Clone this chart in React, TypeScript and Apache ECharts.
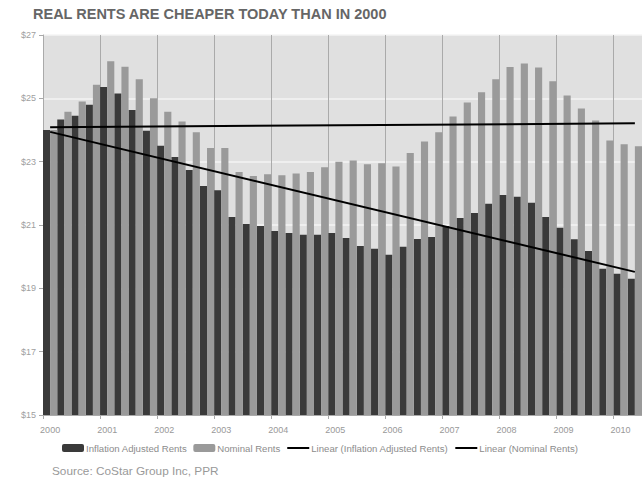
import React, { useEffect, useRef } from "react";
import * as echarts from "echarts";

const categories = [
  "2000 Q1", "2000 Q2", "2000 Q3", "2000 Q4",
  "2001 Q1", "2001 Q2", "2001 Q3", "2001 Q4",
  "2002 Q1", "2002 Q2", "2002 Q3", "2002 Q4",
  "2003 Q1", "2003 Q2", "2003 Q3", "2003 Q4",
  "2004 Q1", "2004 Q2", "2004 Q3", "2004 Q4",
  "2005 Q1", "2005 Q2", "2005 Q3", "2005 Q4",
  "2006 Q1", "2006 Q2", "2006 Q3", "2006 Q4",
  "2007 Q1", "2007 Q2", "2007 Q3", "2007 Q4",
  "2008 Q1", "2008 Q2", "2008 Q3", "2008 Q4",
  "2009 Q1", "2009 Q2", "2009 Q3", "2009 Q4",
  "2010 Q1", "2010 Q2",
];

const inflationAdjusted = [
  24.0, 24.33, 24.45, 24.8,
  25.36, 25.15, 24.63, 23.98,
  23.5, 23.15, 22.74, 22.23,
  22.1, 21.25, 21.03, 20.97,
  20.81, 20.75, 20.69, 20.69,
  20.75, 20.59, 20.34, 20.25,
  20.06, 20.31, 20.56, 20.62,
  20.97, 21.22, 21.38, 21.67,
  21.95, 21.89, 21.7, 21.25,
  20.91, 20.55, 20.18, 19.62,
  19.46, 19.3,
];

const nominal = [
  24.0, 24.58, 24.9, 25.43,
  26.17, 26.0, 25.6, 25.0,
  24.58, 24.27, 23.93, 23.43,
  23.43, 22.67, 22.55, 22.6,
  22.57, 22.63, 22.67, 22.82,
  23.0, 23.04, 22.92, 22.95,
  22.85, 23.27, 23.64, 23.93,
  24.43, 24.87, 25.19, 25.6,
  25.99, 26.1, 25.97, 25.54,
  25.09, 24.68, 24.3, 23.67,
  23.55, 23.49,
];

// Trend line end points (first and last quarter)
const trendInflation = [23.94, 19.52];
const trendNominal = [24.09, 24.21];

const yTicks = [15, 17, 19, 21, 23, 25, 27];

const seriesNames = [
  "Inflation Adjusted Rents",
  "Nominal Rents",
  "Linear (Inflation Adjusted Rents)",
  "Linear (Nominal Rents)",
];

const FONT = "'Liberation Sans', Arial, sans-serif";

function trendData(ends: number[]) {
  return categories.map((_, i) =>
    i === 0 ? ends[0] : i === categories.length - 1 ? ends[1] : null
  );
}

export default function App() {
  const ref = useRef<HTMLDivElement>(null);
  useEffect(() => {
    if (!ref.current) return;
    const chart = echarts.init(ref.current, undefined, { renderer: "svg" });
    chart.setOption({
      animation: false,
      backgroundColor: "#ffffff",
      textStyle: { fontFamily: FONT },
      title: {
        text: "REAL RENTS ARE CHEAPER TODAY THAN IN 2000",
        left: 33,
        top: 6,
        padding: 0,
        textStyle: {
          fontFamily: FONT,
          fontSize: 14.5,
          fontWeight: "bold",
          color: "#666666",
        },
      },
      legend: {
        left: 62,
        top: 443,
        padding: 0,
        itemWidth: 22,
        itemHeight: 8,
        itemGap: 6,
        selectedMode: false,
        textStyle: { fontFamily: FONT, fontSize: 9.6, color: "#8c8c8c", padding: [0, 0, 0, -3] },
        data: [
          { name: seriesNames[0] },
          { name: seriesNames[1] },
          { name: seriesNames[2], itemStyle: { color: "rgba(0,0,0,0)", borderWidth: 0 } },
          { name: seriesNames[3], itemStyle: { color: "rgba(0,0,0,0)", borderWidth: 0 } },
        ],
      },
      grid: {
        left: 43,
        top: 35,
        width: 600,
        height: 380,
        show: true,
        backgroundColor: "#e0e0e0",
        borderWidth: 0,
      },
      xAxis: {
        type: "category",
        data: categories,
        boundaryGap: true,
        axisLine: { show: true, lineStyle: { color: "#aaaaaa", width: 1 } },
        axisTick: { show: true, interval: 3, length: 4, lineStyle: { color: "#aaaaaa" } },
        axisLabel: {
          interval: 3,
          fontSize: 9,
          color: "#999999",
          margin: 10,
          fontFamily: FONT,
          formatter: (v: string) => v.slice(0, 4),
        },
        splitLine: { show: true, interval: 3, lineStyle: { color: "#aaaaaa", width: 1 } },
      },
      yAxis: {
        type: "value",
        min: yTicks[0],
        max: yTicks[yTicks.length - 1],
        interval: 2,
        axisLine: { show: true, lineStyle: { color: "#aaaaaa", width: 1 } },
        axisTick: { show: true, length: 4, lineStyle: { color: "#aaaaaa" } },
        axisLabel: {
          fontSize: 9,
          color: "#a0a0a0",
          margin: 7,
          fontFamily: FONT,
          formatter: (v: number) => "$" + v,
        },
        splitLine: { show: true, lineStyle: { color: "#f4f4f4", width: 1.5 } },
      },
      series: [
        {
          name: seriesNames[0],
          type: "bar",
          data: inflationAdjusted,
          barGap: "0%",
          barCategoryGap: "0%",
          itemStyle: { color: "#3a3a3a" },
        },
        {
          name: seriesNames[1],
          type: "bar",
          data: nominal,
          barGap: "0%",
          barCategoryGap: "0%",
          itemStyle: { color: "#9a9a9a" },
        },
        {
          name: seriesNames[2],
          type: "line",
          data: trendData(trendInflation),
          connectNulls: true,
          symbol: "none",
          lineStyle: { color: "#000000", width: 2 },
          itemStyle: { color: "#000000" },
          z: 5,
        },
        {
          name: seriesNames[3],
          type: "line",
          data: trendData(trendNominal),
          connectNulls: true,
          symbol: "none",
          lineStyle: { color: "#000000", width: 2 },
          itemStyle: { color: "#000000" },
          z: 5,
        },
      ],
      graphic: [
        {
          type: "text",
          left: 52,
          top: 465,
          style: {
            text: "Source: CoStar Group Inc, PPR",
            fontFamily: FONT,
            fontSize: 11.8,
            fill: "#999999",
          },
        },
      ],
    });
    return () => chart.dispose();
  }, []);
  return (
    <div
      ref={ref}
      style={{ position: "fixed", left: 0, top: 0, width: 642, height: 480 }}
    />
  );
}
